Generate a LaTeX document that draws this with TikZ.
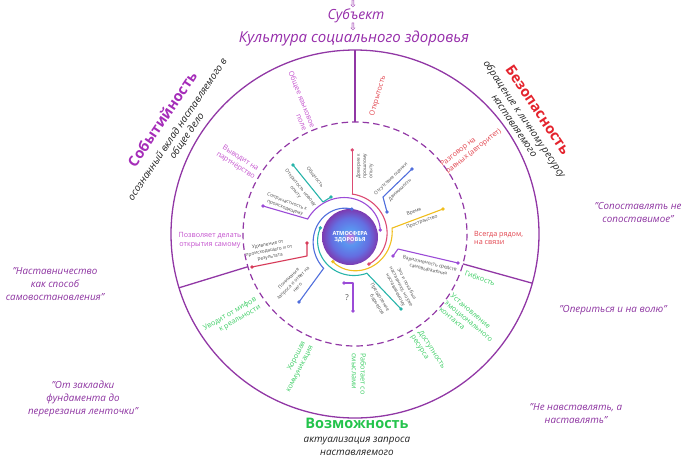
\documentclass[tikz,border=0pt]{standalone}
\usepackage{fontspec}
\setmainfont{Open Sans}
\newfontfamily\djv{DejaVu Sans}
\definecolor{circ}{RGB}{145,55,165}
\definecolor{titlec}{RGB}{150,45,170}
\definecolor{eventc}{RGB}{165,45,185}
\definecolor{magtext}{RGB}{195,80,205}
\definecolor{safec}{RGB}{228,35,45}
\definecolor{redtext}{RGB}{225,65,75}
\definecolor{possc}{RGB}{35,195,75}
\definecolor{greentext}{RGB}{60,205,100}
\definecolor{subgray}{RGB}{35,35,35}
\definecolor{quotec}{RGB}{140,50,160}
\definecolor{cgray}{RGB}{75,75,75}
\definecolor{cpink}{RGB}{220,75,115}
\definecolor{cteal}{RGB}{40,180,170}
\definecolor{cblue}{RGB}{80,110,220}
\definecolor{cpurple}{RGB}{155,75,215}
\definecolor{cyellow}{RGB}{240,190,30}
\definecolor{cred}{RGB}{215,60,90}
\definecolor{atmpink}{RGB}{205,110,215}
\definecolor{atmblue}{RGB}{90,150,240}
\definecolor{atmblueb}{RGB}{100,110,225}
\definecolor{atmpurple}{RGB}{130,45,165}
\definecolor{atmmid}{RGB}{170,90,190}
\definecolor{atmlight}{RGB}{228,205,238}
\pgfdeclareradialshading{atmo}{\pgfpoint{0bp}{0bp}}{color(0bp)=(atmpink); color(7bp)=(atmblue); color(17bp)=(atmblueb); color(27bp)=(atmpurple); color(36bp)=(atmmid); color(45bp)=(atmlight); color(50bp)=(white)}
\newcommand\spiralarc[5]{\draw[brl,#1] plot[domain=#2:#4, samples=60, variable=\t] ({350+(#3+(#5-#3)*(\t-(#2))/((#4)-(#2)))*cos(\t)}, {237-(#3+(#5-#3)*(\t-(#2))/((#4)-(#2)))*sin(\t)});}
\begin{document}
\begin{tikzpicture}[x=1pt,y=-1pt,
 outring/.style={draw=circ,line width=1.3pt},
 dashring/.style={draw=circ,line width=1.2pt,dash pattern=on 6.5pt off 4pt},
 divline/.style={draw=circ,line width=1.3pt},
 toptext/.style={font=\fontsize{15}{18}\selectfont\itshape,text=titlec,inner sep=0pt},
 arrowglyph/.style={font=\djv\fontsize{10}{10}\selectfont,text=titlec,inner sep=0pt},
 sectitle/.style={font=\fontsize{14.5}{18}\selectfont\bfseries,inner sep=0pt},
 subt/.style={font=\fontsize{9.9}{12}\selectfont\itshape,text=subgray,inner sep=0pt},
 intext/.style={font=\fontsize{7.2}{8.8}\selectfont,inner sep=0pt},
 qtext/.style={font=\fontsize{9.8}{13}\selectfont\itshape,text=quotec,align=center,inner sep=0pt},
 ctext/.style={font=\fontsize{4.8}{6.3}\selectfont,text=cgray,inner sep=0pt},
 brl/.style={line width=1.1pt,line cap=round,line join=round},
 dt/.style={circle,inner sep=0pt,minimum size=3.8pt}]
\useasboundingbox (0,0) rectangle (683,459);
\coordinate (O) at (355,234);
\draw[outring] (O) circle (184);
\draw[dashring] (O) circle (112);
% dividers
\coordinate (dT1) at (355,50); \coordinate (dT2) at (355,122);
\coordinate (dR1) at (532.3,283.2); \coordinate (dR2) at (462.9,263.9);
\coordinate (dL1) at (179,287.8); \coordinate (dL2) at (247.9,266.7);
\draw[divline] (dT1) -- (dT2);
\draw[divline] (dR1) -- (dR2);
\draw[divline] (dL1) -- (dL2);
% top titles
\node[arrowglyph] (ar1) at (353,4) {⇩};
\node[toptext,font=\fontsize{14}{16}\selectfont\itshape] (subj) at (356,16) {Субъект};
\node[arrowglyph] (ar2) at (353,27) {⇩};
\node[toptext] (cult) at (354,39) {Культура социального здоровья};
% sector titles
\node[sectitle,text=eventc,rotate=56] (ev) at (162,119) {Событийность};
\node[subt,rotate=56] (ev1) at (177,129) {осознанный вклад наставляемого в};
\node[subt,rotate=56] (ev2) at (187,136) {общее дело};
\node[sectitle,text=safec,rotate=-56] (sf) at (538,110) {Безопасность};
\node[subt,rotate=-56] (sf1) at (524,119.5) {обращение к личному ресурсу};
\node[subt,rotate=-56] (sf2) at (514,126) {наставляемого};
\node[sectitle,text=possc] (ps) at (357,423) {Возможность};
\node[subt] (ps1) at (357,441) {актуализация запроса};
\node[subt] (ps2) at (357,453) {наставляемого};
% ring texts
\node[intext,text=magtext,rotate=-68,align=right] (m1) at (298,101) {Общее языковое\\поле};
\node[intext,text=magtext,rotate=-33,align=center] (m2) at (238,162) {Выводит на\\партнёрство};
\node[intext,text=magtext,align=center] (m3) at (210,240) {Позволяет делать\\открытия самому};
\node[intext,text=redtext,rotate=74] (r1) at (378,96) {Открытость};
\node[intext,text=redtext,rotate=38,align=left] (r2) at (471,148) {Разговор на\\равных (авторитет)};
\node[intext,text=redtext,align=left,anchor=west] (r3) at (474,238) {Всегда рядом,\\на связи};
\node[intext,text=greentext,rotate=-18] (g1) at (480,278) {Гибкость};
\node[intext,text=greentext,rotate=-40,align=left] (g2) at (469,321) {Установление\\эмоционального\\контакта};
\node[intext,text=greentext,rotate=-57,align=left] (g3) at (428,352) {Доступность\\ресурса};
\node[intext,text=greentext,rotate=-90,align=left] (g4) at (359,374) {Работает со\\смыслами};
\node[intext,text=greentext,rotate=63,align=right] (g5) at (296,367) {Хорошая\\коммуникация};
\node[intext,text=greentext,rotate=30,align=right] (g6) at (232,318) {Уводит от мифов\\к реальности};
% quotes
\node[qtext] (q1) at (638,212) {"Сопоставлять не\\сопоставимое"};
\node[qtext] (q2) at (613,310) {"Опериться и на волю"};
\node[qtext] (q3) at (576,414) {"Не навставлять, а\\наставлять"};
\node[qtext] (q4) at (55,284) {"Наставничество\\как способ\\самовостановления"};
\node[qtext] (q5) at (83,399) {"От закладки\\фундамента до\\перерезания ленточки"};
% centre bubble
\shade[shading=atmo] (350,237) circle (28);
\node[font=\fontsize{5.6}{6.8}\selectfont\bfseries,text=white,align=center,inner sep=0pt] (atm) at (350,237) {АТМОСФЕРА\\ЗДОРОВЬЯ};
% branch points
\coordinate (pu1) at (263,206); \coordinate (pu2) at (307.7,219.0); \coordinate (pu3) at (380.2,230.0);
\coordinate (bl1) at (351.95,209.1); \coordinate (bl2) at (323.6,268.4); \coordinate (bl3) at (299,302);
\coordinate (te1) at (320.4,227.9); \coordinate (te2) at (366.9,273.3); \coordinate (te3) at (401,309);
\coordinate (ye1) at (332.8,261.6); \coordinate (ye2) at (392.1,228.1); \coordinate (ye3) at (443,209);
\coordinate (pk1) at (352.25,150); \coordinate (pk2) at (352.25,194.1); \coordinate (pk3) at (368.9,264.0);
\coordinate (tg1) at (293,165); \coordinate (tg2) at (323,202); \coordinate (tg3) at (331,197);
\coordinate (rd1) at (252,267); \coordinate (rd2) at (307,256); \coordinate (rd3) at (307,243);
\coordinate (pq1) at (344,283); \coordinate (pq2) at (353,283); \coordinate (pq3) at (353,311);
\coordinate (bo1) at (412,169); \coordinate (bo2) at (383,197); \coordinate (bo3) at (387,212);
\coordinate (pv1) at (393,256); \coordinate (pv2) at (398,249); \coordinate (pv3) at (458,263);
% spirals
\spiralarc{cpurple}{13}{31}{157}{46}
\spiralarc{cblue}{86}{28}{230}{41}
\spiralarc{cteal}{163}{31}{295}{40}
\spiralarc{cyellow}{235}{30}{372}{43}
\spiralarc{cpink}{-55}{33}{87}{43}
% straight branches
\draw[brl,cpurple] (pu1) -- (pu2);
\draw[brl,cblue] (bl2) -- (bl3);
\draw[brl,cteal] (te2) -- (te3);
\draw[brl,cyellow] (ye2) -- (ye3);
\draw[brl,cpink] (pk1) -- (pk2);
\draw[brl,cteal] (tg1) -- (tg2) -- (tg3);
\draw[brl,cred] (rd1) -- (rd2) -- (rd3);
\draw[brl,cpurple] (pq1) -- (pq2) -- (pq3);
\draw[brl,cblue] (bo1) -- (bo2) -- (bo3);
\draw[brl,cpurple] (pv1) -- (pv2) -- (pv3);
% dots
\node[dt,fill=cpurple] (dpu1) at (pu1) {}; \node[dt,fill=cpurple] (dpu3) at (pu3) {};
\node[dt,fill=cblue] (dbl1) at (bl1) {}; \node[dt,fill=cblue] (dbl3) at (bl3) {};
\node[dt,fill=cteal] (dte1) at (te1) {}; \node[dt,fill=cteal] (dte3) at (te3) {};
\node[dt,fill=cyellow] (dye1) at (ye1) {}; \node[dt,fill=cyellow] (dye3) at (ye3) {};
\node[dt,fill=cpink] (dpk1) at (pk1) {}; \node[dt,fill=cpink] (dpk3) at (pk3) {};
\node[dt,fill=cteal] (dtg1) at (tg1) {}; \node[dt,fill=cteal] (dtg3) at (tg3) {};
\node[dt,fill=cred] (drd1) at (rd1) {}; \node[dt,fill=cred] (drd3) at (rd3) {};
\node[dt,fill=cpurple] (dpq1) at (pq1) {}; \node[dt,fill=cpurple] (dpq3) at (pq3) {};
\node[dt,fill=cblue] (dbo1) at (bo1) {}; \node[dt,fill=cblue] (dbo3) at (bo3) {};
\node[dt,fill=cpurple] (dpv1) at (pv1) {}; \node[dt,fill=cpurple] (dpv3) at (pv3) {};
% centre labels
\node[ctext,rotate=90,align=left] (c1) at (365,166) {Доверие к\\прошлому\\опыту};
\node[ctext,rotate=-51] (c2) at (315,177) {Общность};
\node[ctext,rotate=-51,align=center] (c3) at (298,190) {Открытость новому\\опыту};
\node[ctext,rotate=-20,align=center] (c4) at (286,205) {Сопричастность к\\происходящему};
\node[ctext,rotate=11,align=center] (c5) at (269,251) {Удивление от\\происходящего и от\\результата};
\node[ctext,rotate=45,align=center] (c6) at (293,283) {Понимание\\запроса и ответ на\\него};
\node[font=\fontsize{8}{9}\selectfont,text=cgray,inner sep=0pt] (c7) at (347,298) {?};
\node[ctext,rotate=-58,align=right] (c8) at (377,299) {Преодоление\\барьеров};
\node[ctext,rotate=-62,align=center] (c9) at (401,287) {Это и пока был\\наставнику, но уже\\наставляемому};
\node[ctext,rotate=-13,align=center] (c10) at (429,267) {Вариативность средств\\самовыражения};
\node[ctext,rotate=44] (c11) at (391,179) {Отсутствие оценки};
\node[ctext,rotate=44] (c12) at (400,190) {Движимость};
\node[ctext,rotate=20] (c13) at (414,212) {Время};
\node[ctext,rotate=20] (c14) at (422,222) {Пространство};
\end{tikzpicture}
\end{document}
